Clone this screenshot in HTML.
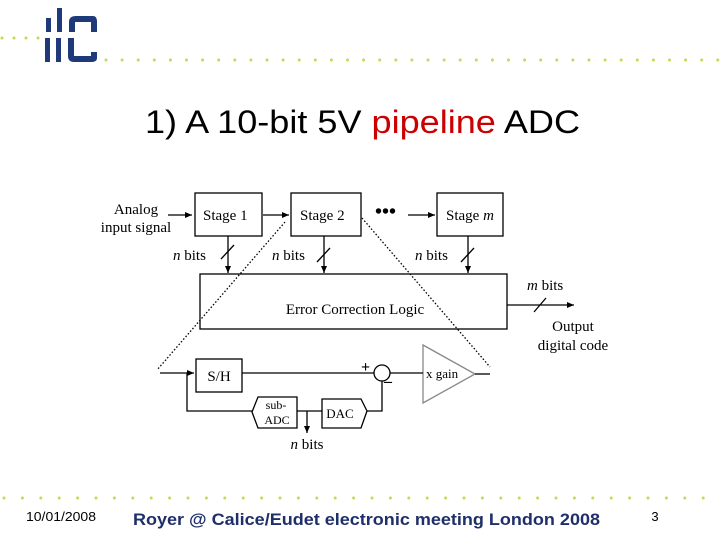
<!DOCTYPE html>
<html><head><style>
body{margin:0;width:720px;height:540px;background:#fff;overflow:hidden;position:relative;font-family:"Liberation Sans",sans-serif}
</style></head><body>
<svg width="720" height="540" viewBox="0 0 720 540" xmlns="http://www.w3.org/2000/svg" style="position:absolute;left:0;top:0">
<defs>
<marker id="a" markerWidth="8" markerHeight="8" refX="7" refY="4" orient="auto" markerUnits="userSpaceOnUse"><path d="M0,1 L7,4 L0,7 Z" fill="#000"/></marker>
</defs>
<g fill="#1f3a78">
<rect x="46" y="18" width="5" height="14"/><rect x="45" y="38" width="5" height="24"/>
<rect x="57" y="8" width="5" height="24"/><rect x="56" y="38" width="5" height="24"/>
<path d="M69,32 L69,22 Q69,16 76,16 L93,16 Q97,16 97,22 L97,32 L91,32 L91,22 L75,22 L75,32 Z"/>
<path d="M68,38 L74,38 L74,56 L91,56 L91,52 L97,52 L97,58 Q97,62 91,62 L74,62 Q68,62 68,56 Z"/>
</g>
<g fill="#c8d850">
<circle cx="2" cy="38" r="1.5"/><circle cx="14" cy="38" r="1.5"/><circle cx="26" cy="38" r="1.5"/><circle cx="38" cy="38" r="1.5"/>
</g>
<g fill="#c8d850" id="hd"></g>
<g fill="#c8d850" id="fd"></g>
<text x="145" y="133" font-size="32" textLength="435" lengthAdjust="spacingAndGlyphs" font-family="Liberation Sans" fill="#000">1) A 10-bit 5V <tspan fill="#cc0000">pipeline</tspan> ADC</text>
<g font-family="Liberation Serif" font-size="15" fill="#000">
<text x="136" y="214" text-anchor="middle">Analog</text>
<text x="136" y="232" text-anchor="middle">input signal</text>
<g fill="none" stroke="#000" stroke-width="1.3">
<rect x="195" y="193" width="67" height="43"/>
<rect x="291" y="193" width="70" height="43"/>
<rect x="437" y="193" width="66" height="43"/>
<rect x="200" y="274" width="307" height="55"/>
<rect x="196" y="359" width="46" height="33"/>
<circle cx="382" cy="373" r="8"/>
<path d="M423,345 L475,374 L423,403 Z" stroke="#888"/>
<path d="M258,397 L297,397 L297,428 L258,428 L252,412 Z"/>
<path d="M322,399 L361,399 L367,411 L361,428 L322,428 Z"/>
<line x1="168" y1="215" x2="192" y2="215" marker-end="url(#a)"/>
<line x1="263" y1="215" x2="289" y2="215" marker-end="url(#a)"/>
<line x1="408" y1="215" x2="435" y2="215" marker-end="url(#a)"/>
<line x1="228" y1="236" x2="228" y2="273" marker-end="url(#a)"/>
<line x1="324" y1="236" x2="324" y2="273" marker-end="url(#a)"/>
<line x1="468" y1="236" x2="468" y2="273" marker-end="url(#a)"/>
<line x1="221" y1="259" x2="234" y2="245"/>
<line x1="317" y1="262" x2="330" y2="248"/>
<line x1="461" y1="262" x2="474" y2="248"/>
<line x1="507" y1="305" x2="574" y2="305" marker-end="url(#a)"/>
<line x1="534" y1="312" x2="546" y2="298"/>
<line x1="160" y1="373" x2="194" y2="373" marker-end="url(#a)"/>
<line x1="242" y1="373" x2="374" y2="373"/>
<line x1="390" y1="373" x2="423" y2="373"/>
<line x1="475" y1="374" x2="490" y2="374"/>
<polyline points="187,373 187,411 252,411"/>
<polyline points="367,411 382,411 382,381"/>
<line x1="297" y1="411" x2="322" y2="411"/>
<line x1="307" y1="411" x2="307" y2="433" marker-end="url(#a)"/>
<line x1="285" y1="222" x2="157" y2="370" stroke-dasharray="1.5,2"/>
<line x1="362" y1="218" x2="490" y2="367" stroke-dasharray="1.5,2"/>
</g>
<text x="203" y="220">Stage 1</text>
<text x="300" y="220">Stage 2</text>
<text x="446" y="220">Stage <tspan font-style="italic">m</tspan></text>
<text x="375" y="218" font-size="20" font-weight="bold">•••</text>
<text x="173" y="260"><tspan font-style="italic">n</tspan> bits</text>
<text x="272" y="260"><tspan font-style="italic">n</tspan> bits</text>
<text x="415" y="260"><tspan font-style="italic">n</tspan> bits</text>
<text x="527" y="290"><tspan font-style="italic">m</tspan> bits</text>
<text x="355" y="314" text-anchor="middle">Error Correction Logic</text>
<text x="573" y="331" text-anchor="middle">Output</text>
<text x="573" y="350" text-anchor="middle">digital code</text>
<text x="219" y="381" text-anchor="middle">S/H</text>
<text x="426" y="378" font-size="13">x gain</text>
<text x="361" y="372" font-size="16" font-weight="bold">+</text>
<text x="384" y="386" font-size="16" font-weight="bold">–</text>
<text x="276" y="409" font-size="12" text-anchor="middle">sub-</text>
<text x="277" y="424" font-size="12" text-anchor="middle">ADC</text>
<text x="340" y="418" font-size="13" text-anchor="middle">DAC</text>
<text x="307" y="449" text-anchor="middle"><tspan font-style="italic">n</tspan> bits</text>
</g>
<text x="26" y="521" font-size="13" textLength="70" lengthAdjust="spacingAndGlyphs" font-family="Liberation Sans" fill="#000">10/01/2008</text>
<text x="133" y="525" font-size="17" textLength="467" lengthAdjust="spacingAndGlyphs" font-weight="bold" font-family="Liberation Sans" fill="#1f2f6a">Royer @ Calice/Eudet electronic meeting London 2008</text>
<text x="655" y="521" font-size="13" font-family="Liberation Sans" fill="#000" text-anchor="middle">3</text>
<script>
var ns="http://www.w3.org/2000/svg";
var hd=document.getElementById('hd'),fd=document.getElementById('fd');
for(var x=106;x<720;x+=16.1){var c=document.createElementNS(ns,'circle');c.setAttribute('cx',x);c.setAttribute('cy',60);c.setAttribute('r',1.5);hd.appendChild(c);}
for(var x=4;x<720;x+=18.4){var c=document.createElementNS(ns,'circle');c.setAttribute('cx',x);c.setAttribute('cy',498);c.setAttribute('r',1.5);fd.appendChild(c);}
</script>
</svg>
</body></html>
